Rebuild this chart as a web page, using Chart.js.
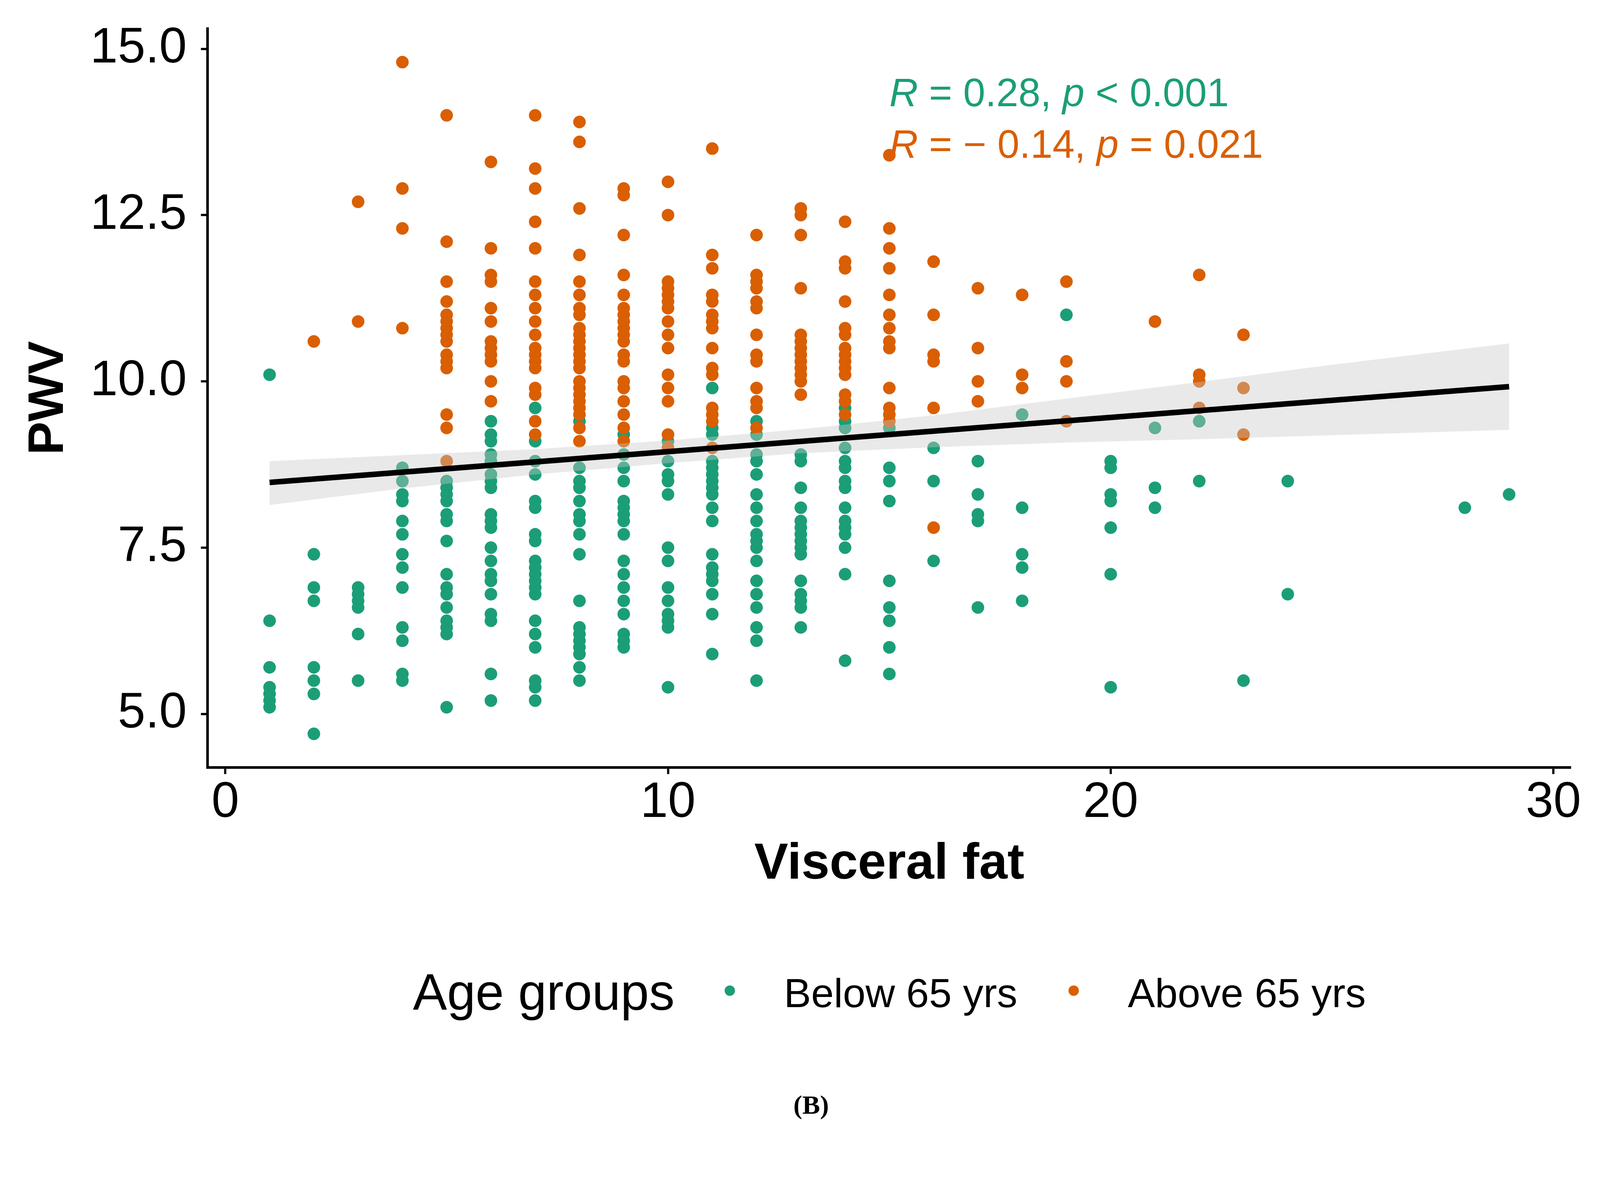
<!DOCTYPE html>
<html><head><meta charset="utf-8">
<script src="https://cdn.jsdelivr.net/npm/chart.js@4.4.1/dist/chart.umd.min.js"></script>
<style>html,body{margin:0;padding:0;background:#fff;overflow:hidden;}canvas{display:block;}</style>
</head><body>
<canvas id="c"></canvas>
<script>
// ---------- DATA ----------
const fatLevels = [1,2,3,4,5,6,7,8,9,10,11,12,13,14,15,16,17,18,19,20,21,22,23,24,28,29];
const belowPWV = [
  [10.1,6.4,5.7,5.4,5.3,5.2,5.1],
  [7.4,6.9,6.7,5.7,5.5,5.3,4.7],
  [6.9,6.8,6.7,6.6,6.2,5.5],
  [8.7,8.5,8.3,8.2,7.9,7.7,7.4,7.2,6.9,6.3,6.1,5.6,5.5],
  [8.5,8.4,8.3,8.2,8.0,7.9,7.6,7.1,6.9,6.8,6.6,6.4,6.3,6.2,5.1],
  [9.4,9.2,9.1,8.9,8.8,8.6,8.5,8.4,8.0,7.9,7.8,7.5,7.3,7.1,7.0,6.8,6.5,6.4,5.6,5.2],
  [9.6,9.1,8.8,8.6,8.2,8.1,7.7,7.6,7.3,7.2,7.1,7.0,6.9,6.8,6.4,6.2,6.0,5.5,5.4,5.2],
  [9.4,8.7,8.5,8.4,8.2,8.0,7.9,7.7,7.4,6.7,6.3,6.2,6.1,6.0,5.9,5.7,5.5],
  [9.2,8.9,8.7,8.5,8.2,8.1,8.0,7.9,7.7,7.3,7.1,6.9,6.7,6.5,6.2,6.1,6.0],
  [9.1,8.8,8.6,8.5,8.3,7.5,7.3,6.9,6.7,6.5,6.4,6.3,5.4],
  [9.9,9.3,9.2,8.8,8.7,8.6,8.5,8.4,8.3,8.1,7.9,7.4,7.2,7.1,7.0,6.8,6.5,5.9],
  [9.4,9.2,8.9,8.8,8.6,8.3,8.1,7.9,7.7,7.6,7.5,7.3,7.0,6.8,6.6,6.3,6.1,5.5],
  [8.9,8.8,8.4,8.1,7.9,7.8,7.7,7.6,7.5,7.4,7.0,6.8,6.7,6.6,6.3],
  [9.6,9.4,9.3,9.0,8.8,8.7,8.5,8.4,8.1,7.9,7.8,7.7,7.5,7.1,5.8],
  [9.3,8.7,8.5,8.2,7.0,6.6,6.4,6.0,5.6],
  [9.0,8.5,7.3],
  [8.8,8.3,8.0,7.9,6.6],
  [9.5,8.1,7.4,7.2,6.7],
  [11.0],
  [8.8,8.7,8.3,8.2,7.8,7.1,5.4],
  [9.3,8.4,8.1],
  [9.4,8.5],
  [5.5],
  [8.5,6.8],
  [8.1],
  [8.3]
];
const abovePWV = [
  [],
  [10.6],
  [12.7,10.9],
  [14.8,12.9,12.3,10.8],
  [14.0,12.1,11.5,11.2,11.0,10.9,10.8,10.7,10.6,10.4,10.3,10.2,9.5,9.3,8.8],
  [13.3,12.0,11.6,11.5,11.1,10.9,10.6,10.5,10.4,10.3,10.0,9.7],
  [14.0,13.2,12.9,12.4,12.0,11.5,11.3,11.1,10.9,10.7,10.5,10.4,10.3,10.2,9.9,9.8,9.4,9.2],
  [13.9,13.6,12.6,11.9,11.5,11.3,11.1,11.0,10.8,10.7,10.6,10.5,10.4,10.3,10.2,10.0,9.9,9.8,9.7,9.6,9.5,9.3,9.1],
  [12.9,12.8,12.2,11.6,11.3,11.1,11.0,10.9,10.8,10.7,10.6,10.4,10.3,10.0,9.9,9.7,9.5,9.3,9.1],
  [13.0,12.5,11.5,11.4,11.3,11.2,11.1,10.9,10.7,10.5,10.1,9.9,9.7,9.2,9.0],
  [13.5,11.9,11.7,11.3,11.2,11.0,10.9,10.8,10.5,10.2,10.1,9.6,9.5,9.4,9.0],
  [12.2,11.6,11.5,11.4,11.2,11.1,10.7,10.4,10.3,9.9,9.7,9.6,9.3],
  [12.6,12.5,12.2,11.4,10.7,10.6,10.5,10.4,10.3,10.2,10.1,10.0,9.8],
  [12.4,11.8,11.7,11.2,10.8,10.7,10.5,10.4,10.3,10.2,10.1,9.8,9.7,9.5],
  [13.4,12.3,12.0,11.7,11.3,11.0,10.8,10.6,10.5,9.9,9.6,9.5,9.4],
  [11.8,11.0,10.4,10.3,9.6,7.8],
  [11.4,10.5,10.0,9.7],
  [11.3,10.1,9.9],
  [11.5,10.3,10.0,9.4],
  [],
  [10.9],
  [11.6,10.1,10.0,9.6],
  [10.7,9.9,9.2],
  [],
  [],
  []
];
const fitX = [1, 29];
const fitY = [8.48, 9.92];
const bandX = [1,4,7,10,13,16,19,22,25,29];
const bandLower = [8.14,8.39,8.60,8.77,8.92,9.01,9.08,9.13,9.19,9.27];
const bandUpper = [8.80,8.89,8.98,9.11,9.28,9.49,9.74,9.99,10.25,10.57];
const groupLabels = ['Below 65 yrs', 'Above 65 yrs'];
const groupColors = ['#1B9E77', '#D95F02'];
const legendTitle = 'Age groups';
const xTickValues = [0,10,20,30];
const xTickLabels = ['0','10','20','30'];
const yTickValues = [5,7.5,10,12.5,15];
const yTickLabels = ['5.0','7.5','10.0','12.5','15.0'];
const statLines = [
  {r: '0.28', pOp: '<', p: '0.001'},
  {r: '\u2212 0.14', pOp: '=', p: '0.021'}
];
const panelLabel = '(B)';

// ---------- SIZE (design is 4316 x 3055, scaled to the viewport) ----------
const BW = 4316, BH = 3055;
const vw = window.innerWidth || BW, vh = window.innerHeight || BH;
const S = Math.min(vw / BW, vh / BH);
const px = v => v * S;
const canvas = document.getElementById('c');
canvas.width = Math.round(BW * S);
canvas.height = Math.round(BH * S);
canvas.style.width = canvas.width + 'px';
canvas.style.height = canvas.height + 'px';

// ---------- BUILD ----------
function toPoints(groups){
  const out = [];
  fatLevels.forEach((x,i)=>groups[i].forEach(v=>out.push({x:x,y:v})));
  return out;
}
const FONT = '"Liberation Sans", Arial, sans-serif';
Chart.defaults.font.family = FONT;
Chart.defaults.color = '#000';

const extras = {
  id: 'extras',
  afterDraw(chart){
    const ctx = chart.ctx;
    const xs = chart.scales.x, ys = chart.scales.y;
    ctx.save();
    // correlation annotations
    const size = px(107);
    const x0 = xs.getPixelForValue(15);
    const baseVals = [14.137, 13.36];
    statLines.forEach((s,i)=>{
      const segs = [
        {t:'R', it:true}, {t:' = ' + s.r + ', '}, {t:'p', it:true}, {t:' ' + s.pOp + ' ' + s.p}
      ];
      let x = x0;
      const y = ys.getPixelForValue(baseVals[i]);
      ctx.fillStyle = groupColors[i];
      ctx.textBaseline = 'alphabetic';
      ctx.textAlign = 'left';
      segs.forEach(sg=>{
        ctx.font = (sg.it ? 'italic ' : '') + size + 'px ' + FONT;
        ctx.fillText(sg.t, x, y);
        x += ctx.measureText(sg.t).width;
      });
    });
    // legend
    const tSize = px(138), lSize = px(110);
    ctx.font = tSize + 'px ' + FONT;
    const wT = ctx.measureText(legendTitle).width;
    ctx.font = lSize + 'px ' + FONT;
    const wL = groupLabels.map(l=>ctx.measureText(l).width);
    const g1 = px(149), g2 = px(146), g3 = px(152);
    const total = wT + g1 + g2 + wL[0] + g3 + g2 + wL[1];
    const cx = (chart.chartArea.left + chart.chartArea.right)/2;
    let lx = cx - total/2;
    ctx.fillStyle = '#000';
    ctx.font = tSize + 'px ' + FONT;
    ctx.fillText(legendTitle, lx, px(2725));
    lx += wT + g1;
    groupLabels.forEach((l,i)=>{
      ctx.beginPath();
      ctx.fillStyle = groupColors[i];
      ctx.arc(lx, px(2673), px(14), 0, Math.PI*2);
      ctx.fill();
      lx += g2;
      ctx.fillStyle = '#000';
      ctx.font = lSize + 'px ' + FONT;
      ctx.fillText(l, lx, px(2717));
      lx += wL[i] + g3;
    });
    // panel label
    ctx.font = 'bold ' + px(72) + 'px "Liberation Serif", "Times New Roman", serif';
    ctx.textAlign = 'center';
    ctx.fillStyle = '#000';
    ctx.fillText(panelLabel, px(2188), px(3005));
    ctx.restore();
  }
};

new Chart(canvas, {
  type: 'scatter',
  data: {
    datasets: [
      {label: groupLabels[0], data: toPoints(belowPWV), backgroundColor: groupColors[0], borderWidth: 0, pointRadius: px(17), order: 4},
      {label: groupLabels[1], data: toPoints(abovePWV), backgroundColor: groupColors[1], borderWidth: 0, pointRadius: px(17), order: 3},
      {label: 'lower', data: bandX.map((x,i)=>({x:x,y:bandLower[i]})), showLine: true, pointRadius: 0, borderWidth: 0, borderColor: 'rgba(0,0,0,0)', fill: false, order: 2},
      {label: 'upper', data: bandX.map((x,i)=>({x:x,y:bandUpper[i]})), showLine: true, pointRadius: 0, borderWidth: 0, borderColor: 'rgba(0,0,0,0)', backgroundColor: 'rgba(200,200,200,0.4)', fill: '-1', order: 2},
      {label: 'fit', data: fitX.map((x,i)=>({x:x,y:fitY[i]})), showLine: true, pointRadius: 0, borderColor: '#000', borderWidth: px(15), fill: false, order: 1}
    ]
  },
  options: {
    responsive: false,
    devicePixelRatio: window.devicePixelRatio || 1,
    animation: false,
    events: [],
    layout: {padding: {top: px(77), right: px(78), left: 0, bottom: 0}},
    plugins: {legend: {display: false}, tooltip: {enabled: false}},
    scales: {
      x: {
        type: 'linear', min: -0.4, max: 30.4,
        afterFit(s){ s.height = px(984); s.paddingLeft = 0; s.paddingRight = 0; },
        afterBuildTicks(s){ s.ticks = xTickValues.map(v=>({value:v})); },
        ticks: {callback: v => xTickLabels[xTickValues.indexOf(v)], font: {size: px(134), lineHeight: 1}, color: '#000', padding: px(12), maxRotation: 0, autoSkip: false},
        grid: {display: true, drawOnChartArea: false, drawTicks: true, tickLength: px(18), tickWidth: px(6), tickColor: '#000'},
        border: {display: true, color: '#000', width: px(7)},
        title: {display: true, text: 'Visceral fat', color: '#000', font: {size: px(137), weight: 'bold'}, padding: {top: 0, bottom: px(639)}}
      },
      y: {
        type: 'linear', min: 4.195, max: 15.305,
        afterFit(s){ s.width = px(560); s.paddingTop = 0; s.paddingBottom = 0; },
        afterBuildTicks(s){ s.ticks = yTickValues.map(v=>({value:v})); },
        ticks: {callback: v => yTickLabels[yTickValues.indexOf(v)], font: {size: px(134), lineHeight: 1}, color: '#000', padding: px(38), autoSkip: false},
        grid: {display: true, drawOnChartArea: false, drawTicks: true, tickLength: px(18), tickWidth: px(6), tickColor: '#000'},
        border: {display: true, color: '#000', width: px(7)},
        title: {display: true, text: 'PWV', color: '#000', font: {size: px(135), weight: 'bold'}, padding: {top: px(51), bottom: 0}}
      }
    }
  },
  plugins: [extras]
});
</script>
</body></html>
